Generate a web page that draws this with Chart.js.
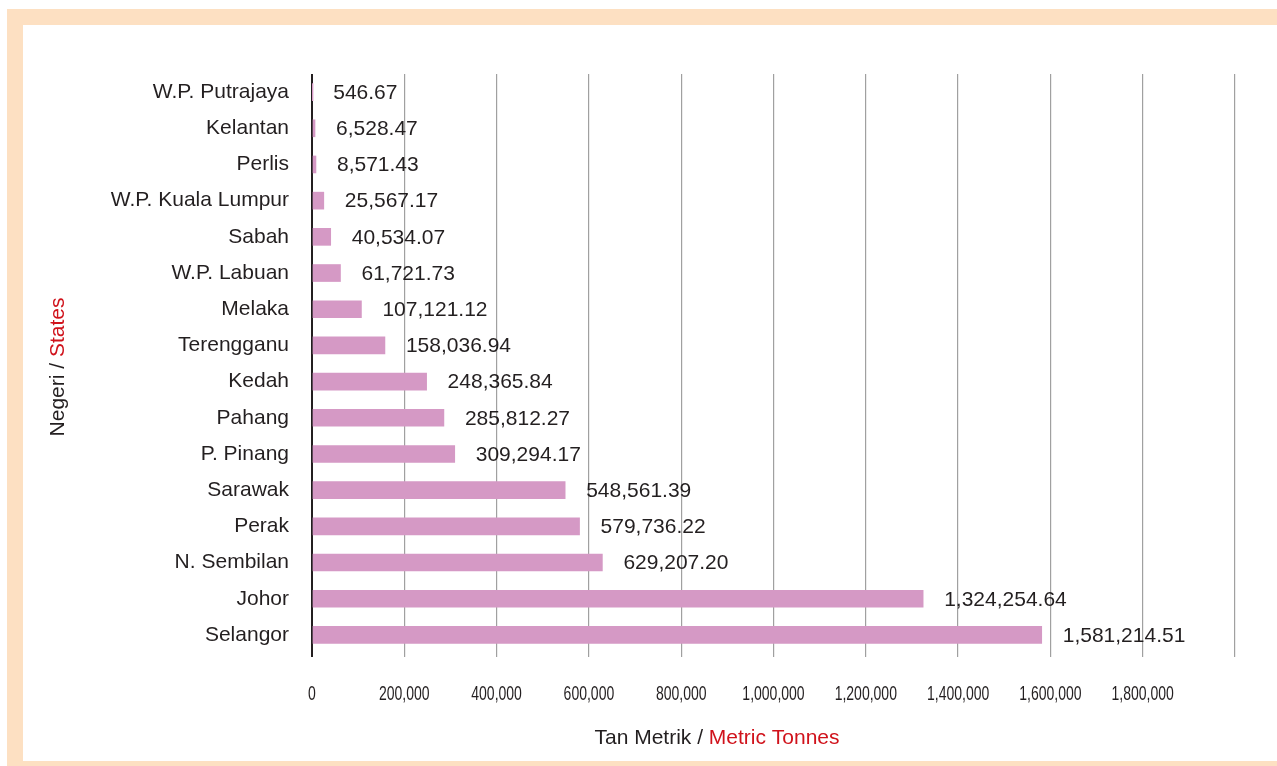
<!DOCTYPE html>
<html>
<head>
<meta charset="utf-8">
<script src="https://cdn.jsdelivr.net/npm/chart.js@4"></script>
<style>
  body { margin: 0; background: #fff; }
  .frame { position: absolute; left: 7px; top: 9px; width: 1270px; height: 757px; background: #fde0c2; }
  .inner { position: absolute; left: 16px; top: 16px; width: 1254px; height: 736px; background: #fff; }
</style>
</head>
<body>
<div class="frame">
  <div class="inner">
    <canvas id="barChart" width="1254" height="736"></canvas>
  </div>
</div>
<script>
const states = ['W.P. Putrajaya', 'Kelantan', 'Perlis', 'W.P. Kuala Lumpur', 'Sabah', 'W.P. Labuan',
  'Melaka', 'Terengganu', 'Kedah', 'Pahang', 'P. Pinang', 'Sarawak', 'Perak', 'N. Sembilan', 'Johor', 'Selangor'];
const tonnes = [546.67, 6528.47, 8571.43, 25567.17, 40534.07, 61721.73, 107121.12, 158036.94,
  248365.84, 285812.27, 309294.17, 548561.39, 579736.22, 629207.20, 1324254.64, 1581214.51];
const xTickValues = [0, 200000, 400000, 600000, 800000, 1000000, 1200000, 1400000, 1600000, 1800000];
const xMax = 2000000;

const textColor = '#231f20';
const redColor = '#d0121b';
const labelFont = '21px "Liberation Sans", Arial, sans-serif';

function fmt(v) {
  return v.toLocaleString('en-US', { minimumFractionDigits: 2, maximumFractionDigits: 2 });
}

// value labels, narrow x tick labels and the two-colour axis titles
const extras = {
  id: 'extras',
  afterDatasetsDraw(chart) {
    const ctx = chart.ctx;
    const meta = chart.getDatasetMeta(0);
    ctx.save();
    ctx.font = labelFont;
    ctx.fillStyle = textColor;
    ctx.textBaseline = 'middle';
    ctx.textAlign = 'left';
    meta.data.forEach(function (bar, i) {
      ctx.fillText(fmt(tonnes[i]), bar.x + 21, bar.y + 1);
    });

    // x tick labels, squeezed to look condensed
    const xs = chart.scales.x;
    ctx.font = '20px "Liberation Sans", Arial, sans-serif';
    ctx.textAlign = 'center';
    xTickValues.forEach(function (v) {
      ctx.save();
      ctx.translate(xs.getPixelForValue(v), 669);
      ctx.scale(0.7, 1);
      ctx.fillText(v.toLocaleString('en-US'), 0, 0);
      ctx.restore();
    });

    ctx.font = labelFont;
    ctx.textAlign = 'left';
    // x title
    const a = 'Tan Metrik / ', b = 'Metric Tonnes';
    const wa = ctx.measureText(a).width, wb = ctx.measureText(b).width;
    let x = 694 - (wa + wb) / 2;
    ctx.fillStyle = textColor;
    ctx.fillText(a, x, 713);
    ctx.fillStyle = redColor;
    ctx.fillText(b, x + wa, 713);

    // y title, rotated
    const c = 'Negeri / ', d = 'States';
    const wc = ctx.measureText(c).width, wd = ctx.measureText(d).width;
    ctx.translate(35, 342);
    ctx.rotate(-Math.PI / 2);
    x = -(wc + wd) / 2;
    ctx.fillStyle = textColor;
    ctx.fillText(c, x, 0);
    ctx.fillStyle = redColor;
    ctx.fillText(d, x + wc, 0);
    ctx.restore();
  }
};

const ctx = document.getElementById('barChart').getContext('2d');

const barChart = new Chart(ctx, {
  type: 'bar',
  data: {
    labels: states,
    datasets: [{
      data: tonnes,
      backgroundColor: '#d599c5',
      barThickness: 17
    }]
  },
  options: {
    indexAxis: 'y',
    responsive: false,
    animation: false,
    layout: { padding: { top: 49, right: 42, left: 0, bottom: 0 } },
    plugins: {
      legend: { display: false },
      tooltip: { enabled: false }
    },
    scales: {
      x: {
        min: 0,
        max: xMax,
        afterFit: function (scale) { scale.height = 108; },
        afterBuildTicks: function (scale) {
          scale.ticks = xTickValues.concat([xMax]).map(v => ({ value: v }));
        },
        border: { display: false },
        grid: {
          color: c => c.tick && c.tick.value === 0 ? textColor : '#a0a0a0',
          lineWidth: c => c.tick && c.tick.value === 0 ? 2 : 1.2,
          tickLength: 4
        },
        ticks: {
          maxRotation: 0,
          callback: function () { return ''; }
        }
      },
      y: {
        afterFit: function (scale) { scale.width = 289; },
        border: { display: false },
        grid: { display: false, drawTicks: false },
        ticks: {
          padding: 23,
          color: textColor,
          font: { family: '"Liberation Sans", Arial, sans-serif', size: 21 }
        }
      }
    }
  },
  plugins: [extras]
});
</script>
</body>
</html>
